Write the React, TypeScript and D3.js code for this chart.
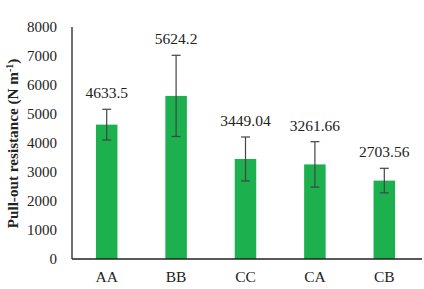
import React from "react";
import * as d3 from "d3";

const categories = ["AA", "BB", "CC", "CA", "CB"];
const values = [4633.5, 5624.2, 3449.04, 3261.66, 2703.56];
const valueLabels = ["4633.5", "5624.2", "3449.04", "3261.66", "2703.56"];
const errors = [530, 1400, 758, 783, 424];
const yTicks = [0, 1000, 2000, 3000, 4000, 5000, 6000, 7000, 8000];

const W = 424;
const H = 289;
const left = 72;
const right = 419;
const top = 27;
const bottom = 259;
const font = "'Liberation Serif', 'Times New Roman', serif";

export default function App() {
  const x = d3.scaleBand<string>().domain(categories).range([left, right]).paddingInner(0.69).paddingOuter(0.345);
  const y = d3.scaleLinear().domain([0, 8000]).range([bottom, top]);
  const bw = x.bandwidth();
  return (
    <svg width={W} height={H} style={{ position: "absolute", left: 0, top: 0, background: "#fff" }}>
      {yTicks.map((t) => (
        <text key={t} x={57} y={y(t)} dy="0.35em" textAnchor="end" fontFamily={font} fontSize={15} fill="#222">
          {t}
        </text>
      ))}
      {categories.map((c, i) => {
        const cx = (x(c) as number) + bw / 2;
        const hi = y(values[i] + errors[i]);
        const lo = y(values[i] - errors[i]);
        return (
          <g key={c}>
            <rect x={x(c) as number} y={y(values[i])} width={bw} height={bottom - y(values[i])} fill="#1db04f" />
            <line x1={cx} x2={cx} y1={hi} y2={lo} stroke="#444" strokeWidth={1.2} />
            <line x1={cx - 4.5} x2={cx + 4.5} y1={hi} y2={hi} stroke="#444" strokeWidth={1.2} />
            <line x1={cx - 4.5} x2={cx + 4.5} y1={lo} y2={lo} stroke="#444" strokeWidth={1.2} />
            <text x={cx} y={hi - 11} textAnchor="middle" fontFamily={font} fontSize={15.5} fill="#222">
              {valueLabels[i]}
            </text>
            <text x={cx} y={277} dy="0.35em" textAnchor="middle" fontFamily={font} fontSize={15.5} fill="#222">
              {c}
            </text>
          </g>
        );
      })}
      <line x1={left} x2={left} y1={top} y2={bottom} stroke="#222" strokeWidth={1.3} />
      <line x1={left} x2={422} y1={bottom} y2={bottom} stroke="#222" strokeWidth={1.3} />
      <text
        transform={`translate(18, 143.5) rotate(-90)`}
        textAnchor="middle"
        fontFamily={font}
        fontSize={15.2}
        fontWeight="bold"
        fill="#222"
      >
        Pull-out resistance (N m
        <tspan baselineShift="super" fontSize={10}>-1</tspan>)
      </text>
    </svg>
  );
}
